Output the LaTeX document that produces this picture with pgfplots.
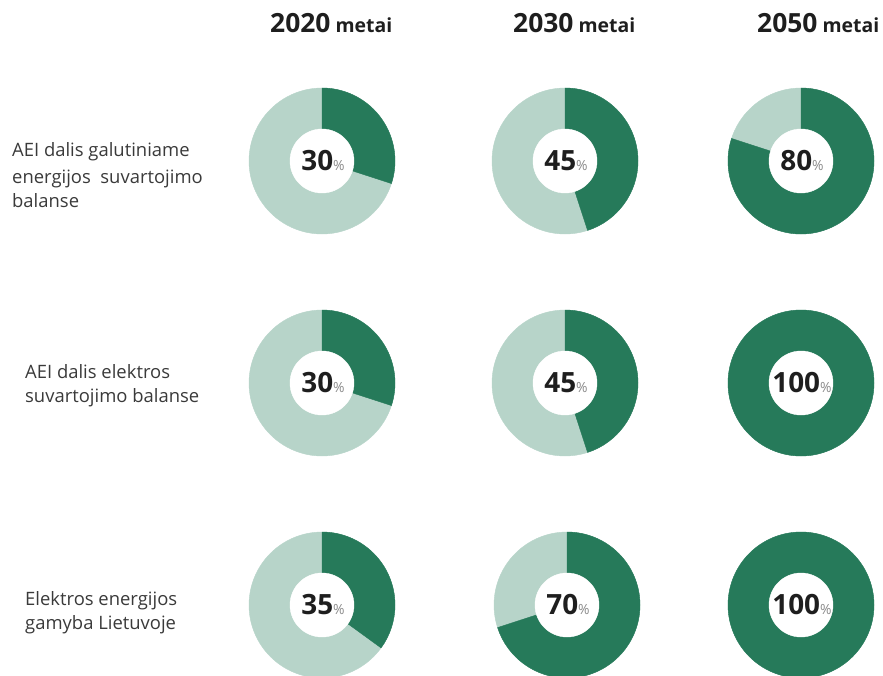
\documentclass[border=0pt]{standalone}
\usepackage{pgfplots}
\pgfplotsset{compat=1.18}
\usepackage{pgfplotstable}
\usepackage{fontspec}
\setmainfont{Open Sans}
\definecolor{darkg}{HTML}{267A5A}
\definecolor{lightg}{HTML}{B7D4C9}
\definecolor{numc}{HTML}{1E1E1E}
\definecolor{pctc}{HTML}{8A8A8A}
\definecolor{labc}{HTML}{3A3A3A}

\pgfplotstableread{
x y v
322 161 30
565 161 45
801 161 80
322 383 30
565 383 45
801 383 100
322 605 35
567 605 70
801 605 100
}\donuts

\begin{document}
\begin{tikzpicture}
\begin{axis}[
  x=1bp, y=1bp, xmin=0, xmax=883, ymin=0, ymax=676, y dir=reverse,
  hide axis, clip=false,
]
\addplot[scatter, only marks, mark=*, mark size=0.01pt,
  mark options={draw=none, fill=none},
  point meta=explicit symbolic,
  scatter/@pre marker code/.code={
    \edef\val{\pgfplotspointmeta}
    \fill[lightg] (0,0) circle[radius=73bp];
    \fill[darkg] (0,0) -- (90:73bp) arc[start angle=90, delta angle=-3.6*\val, radius=73bp] -- cycle;
    \fill[white] (0,0) circle[radius=32bp];
    \node[inner sep=0pt, text=numc, font=\fontsize{28}{28}\selectfont\bfseries] at (1bp,0) {\val{\fontsize{14}{14}\selectfont\mdseries\color{pctc}\%}};
    \scope
  },
  scatter/@post marker code/.code={\endscope},
] table[x=x, y=y, meta=v] {\donuts};

% column headers
\node[anchor=base west, inner sep=0pt, text=numc] at (axis cs:270,33) {\fontsize{26.5}{26.5}\selectfont\bfseries 2020{\fontsize{19.5}{19.5}\selectfont\ metai}};
\node[anchor=base west, inner sep=0pt, text=numc] at (axis cs:513,33) {\fontsize{26.5}{26.5}\selectfont\bfseries 2030{\fontsize{19.5}{19.5}\selectfont\ metai}};
\node[anchor=base west, inner sep=0pt, text=numc] at (axis cs:757,33) {\fontsize{26.5}{26.5}\selectfont\bfseries 2050{\fontsize{19.5}{19.5}\selectfont\ metai}};

% row labels
\begin{scope}[every node/.style={anchor=base west, inner sep=0pt, text=labc, font=\fontsize{18.5}{18.5}\selectfont}]
\node at (axis cs:12,157) {AEI dalis galutiniame};
\node at (axis cs:12,183) {energijos\ \ suvartojimo};
\node at (axis cs:12,207) {balanse};
\node at (axis cs:25,378) {AEI dalis elektros};
\node at (axis cs:25,402) {suvartojimo balanse};
\node at (axis cs:25,605) {Elektros energijos};
\node at (axis cs:25,629) {gamyba Lietuvoje};
\end{scope}
\end{axis}
\pgfresetboundingbox
\path[use as bounding box] (current axis.south west) rectangle (current axis.north east);
\end{tikzpicture}
\end{document}
